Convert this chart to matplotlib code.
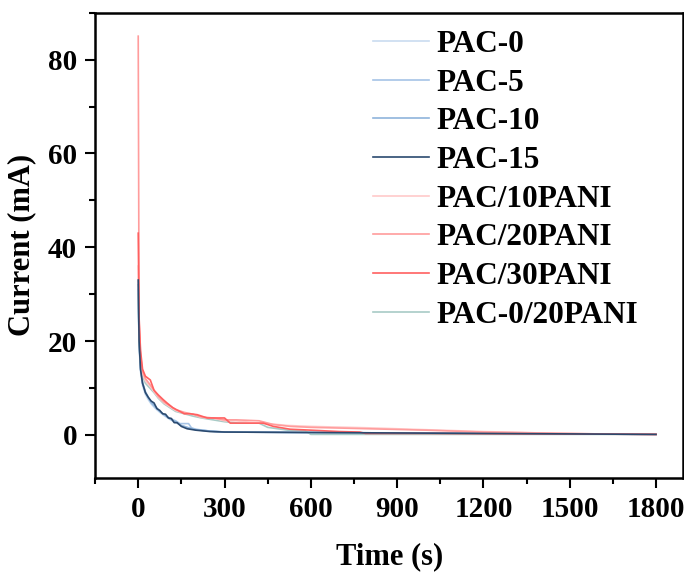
import matplotlib
matplotlib.use("Agg")
import matplotlib.pyplot as plt
from matplotlib.ticker import MultipleLocator

# ---------------- data ----------------
labels = ["PAC-0", "PAC-5", "PAC-10", "PAC-15",
          "PAC/10PANI", "PAC/20PANI", "PAC/30PANI", "PAC-0/20PANI"]
colors = ["#c9dcf0", "#a6c4e6", "#8fb4dc", "#2b4a6f",
          "#ffcaca", "#ff9c9c", "#ff6060", "#a8cbc6"]

t_pac0 = [0, 3, 8, 15, 25, 35, 45, 60, 75, 90, 110, 130, 150, 175, 200, 250, 300, 600, 900, 1200, 1500, 1800]
i_pac0 = [30, 19, 13.5, 10.5, 8.6, 7.5, 6.6, 5.6, 4.8, 4.1, 3.3, 2.6, 2.0, 1.5, 1.1, 0.8, 0.6, 0.5, 0.4, 0.3, 0.2, 0.1]

t_pac5 = [0, 3, 8, 15, 25, 35, 45, 60, 75, 90, 110, 130, 145, 160, 175, 185, 200, 250, 300, 600, 900, 1200, 1500, 1800]
i_pac5 = [31, 19.5, 14, 11, 9, 7.8, 6.8, 5.8, 5.0, 4.3, 3.5, 3.0, 2.4, 2.4, 2.4, 1.5, 1.2, 0.8, 0.6, 0.5, 0.4, 0.3, 0.2, 0.1]

t_pac10 = [0, 3, 8, 15, 25, 35, 45, 60, 75, 90, 110, 130, 150, 175, 200, 250, 300, 600, 900, 1200, 1500, 1800]
i_pac10 = [32, 20, 14.5, 11.2, 9.2, 8.0, 7.0, 6.0, 5.0, 4.3, 3.4, 2.8, 2.0, 1.5, 1.1, 0.8, 0.6, 0.5, 0.4, 0.3, 0.2, 0.1]

t_pac15 = [0, 3, 8, 15, 25, 35, 45, 55, 65, 75, 85, 95, 105, 115, 125, 135, 150, 170, 200, 250, 300, 600, 900, 1200, 1500, 1800]
i_pac15 = [33, 20, 14, 11, 9, 8, 7.2, 6.8, 5.6, 5.2, 4.5, 4.4, 3.6, 3.5, 2.6, 2.6, 1.8, 1.3, 1.0, 0.7, 0.6, 0.5, 0.4, 0.3, 0.2, 0.1]

t_p10 = [0, 3, 8, 15, 25, 40, 55, 70, 90, 110, 130, 160, 190, 220, 260, 300, 340, 400, 450, 520, 600, 800, 1000, 1200, 1400, 1600, 1800]
i_p10 = [36, 22, 16, 13, 11.5, 10.5, 9.2, 8.0, 6.8, 6.0, 5.2, 4.6, 4.4, 3.7, 3.6, 3.0, 3.0, 2.6, 2.4, 2.0, 1.8, 1.5, 1.1, 0.7, 0.4, 0.2, 0.1]

t_p20 = [0, 3, 8, 15, 25, 40, 55, 70, 90, 110, 130, 160, 190, 220, 260, 300, 340, 420, 470, 530, 600, 800, 1000, 1200, 1400, 1600, 1800]
i_p20 = [85, 24, 17, 13.5, 12, 10.8, 9.5, 8.2, 7.0, 6.2, 5.4, 4.8, 4.4, 3.8, 3.6, 3.2, 3.2, 3.0, 2.2, 1.8, 1.6, 1.3, 1.0, 0.6, 0.4, 0.2, 0.1]

t_p30 = [0, 3, 8, 15, 25, 42, 55, 70, 87, 100, 120, 135, 160, 180, 205, 240, 274, 300, 320, 380, 435, 470, 528, 600, 700, 770, 790, 1000, 1400, 1800]
i_p30 = [43, 25, 18, 14, 12.5, 11.7, 9.5, 8.5, 7.5, 6.8, 5.8, 5.3, 4.5, 4.5, 4.3, 3.6, 3.6, 3.6, 2.5, 2.5, 2.5, 1.8, 1.2, 1.0, 0.7, 0.6, 0.3, 0.3, 0.2, 0.1]

t_p020 = [0, 3, 8, 15, 25, 40, 55, 70, 90, 110, 130, 160, 190, 220, 260, 300, 350, 420, 450, 520, 580, 600, 900, 1200, 1500, 1800]
i_p020 = [30, 20, 15, 12.5, 11, 10, 9, 7.8, 6.6, 5.8, 5.0, 4.5, 4.0, 3.6, 3.2, 2.8, 2.5, 2.5, 1.6, 1.0, 0.9, 0.1, 0.1, 0.1, 0.1, 0.1]

series_t = [t_pac0, t_pac5, t_pac10, t_pac15, t_p10, t_p20, t_p30, t_p020]
series_i = [i_pac0, i_pac5, i_pac10, i_pac15, i_p10, i_p20, i_p30, i_p020]

x_ticks = [0, 300, 600, 900, 1200, 1500, 1800]
y_ticks = [0, 20, 40, 60, 80]

# ---------------- figure ----------------
plt.rcParams["font.family"] = ["Liberation Serif", "DejaVu Serif"]
plt.rcParams["font.weight"] = "bold"

fig = plt.figure(figsize=(6.84, 5.78), dpi=100)
ax = fig.add_axes([0.139, 0.173, 0.860, 0.805])

draw_order = [0, 1, 2, 7, 4, 5, 6, 3]
lines = {}
for k in draw_order:
    ln, = ax.plot(series_t[k], series_i[k], color=colors[k], lw=1.2, label=labels[k])
    lines[k] = ln

ax.set_xlim(-150, 1895)
ax.set_ylim(-9.2, 90)
ax.set_xticks(x_ticks)
ax.set_yticks(y_ticks)
ax.xaxis.set_minor_locator(MultipleLocator(150))
ax.yaxis.set_minor_locator(MultipleLocator(10))
ax.tick_params(which="major", direction="out", length=7, width=1.5, labelsize=21, pad=6)
ax.tick_params(which="minor", direction="out", length=4, width=1.5)
ax.tick_params(top=False, right=False)
for lab in ax.get_xticklabels() + ax.get_yticklabels():
    lab.set_fontweight("bold")
for s in ax.spines.values():
    s.set_linewidth(1.8)

ax.set_xlabel("Time (s)", fontsize=22, fontweight="bold", labelpad=14)
ax.set_ylabel("Current (mA)", fontsize=22, fontweight="bold", labelpad=8)

handles = [lines[k] for k in range(8)]
leg = ax.legend(handles, labels, loc="upper left", bbox_to_anchor=(0.443, 1.0),
                frameon=False, fontsize=22.5, handlelength=1.8, handletextpad=0.25,
                labelspacing=0.31, borderaxespad=0.15)
for txt in leg.get_texts():
    txt.set_fontweight("bold")

fig.savefig("out.png", dpi=100)
